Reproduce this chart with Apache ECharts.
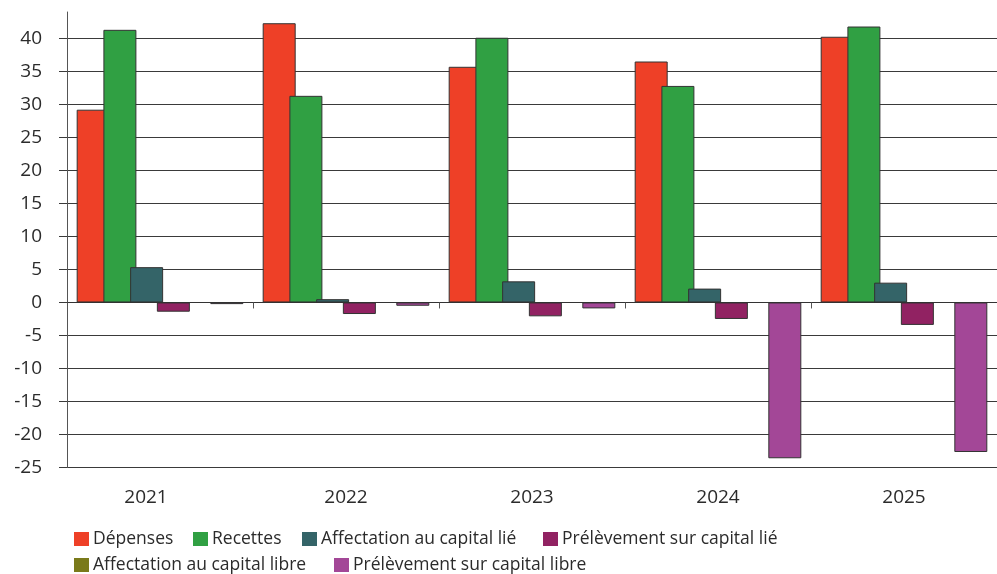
<!DOCTYPE html>
<html>
<head>
<meta charset="utf-8">
<script src="https://cdn.jsdelivr.net/npm/echarts@6/dist/echarts.min.js"></script>
<style>
  html, body { margin: 0; padding: 0; background: #fff; }
  #chart { width: 997px; height: 574px; }
</style>
</head>
<body>
<div id="chart"></div>
<script>
const categories = ['2021', '2022', '2023', '2024', '2025'];
const depenses = [29.2, 42.3, 35.7, 36.5, 40.25];
const recettes = [41.3, 31.3, 40.1, 32.8, 41.8];
const affectationLie = [5.35, 0.5, 3.2, 2.1, 3.0];
const prelevementLie = [-1.4, -1.75, -2.1, -2.5, -3.4];
const affectationLibre = [0, 0, 0, 0, 0];
const prelevementLibre = [-0.25, -0.5, -0.9, -23.6, -22.65];
const yTicks = [-25, -20, -15, -10, -5, 0, 5, 10, 15, 20, 25, 30, 35, 40];

const seriesDefs = [
  { name: 'Dépenses', data: depenses, color: '#EE4027' },
  { name: 'Recettes', data: recettes, color: '#30A043' },
  { name: 'Affectation au capital lié', data: affectationLie, color: '#346468' },
  { name: 'Prélèvement sur capital lié', data: prelevementLie, color: '#912262' },
  { name: 'Affectation au capital libre', data: affectationLibre, color: '#7A7A1A' },
  { name: 'Prélèvement sur capital libre', data: prelevementLibre, color: '#A34797' }
];

const legendPos = [
  { left: 74, top: 529 },
  { left: 193, top: 529 },
  { left: 302, top: 529 },
  { left: 543, top: 529 },
  { left: 74, top: 555 },
  { left: 334, top: 555 }
];

const FONT = '"Open Sans", "Noto Sans", sans-serif';
const splitColors = yTicks.map(() => '#3a3a3a').concat(['rgba(0,0,0,0)']);

const chart = echarts.init(document.getElementById('chart'), null, { renderer: 'canvas' });

chart.setOption({
  animation: false,
  backgroundColor: '#fff',
  textStyle: { fontFamily: FONT },
  grid: { left: 67, right: -5, top: 12, bottom: 106.5, containLabel: false },
  legend: seriesDefs.map((s, i) => ({
    data: [s.name],
    left: legendPos[i].left,
    top: legendPos[i].top,
    padding: 0,
    itemWidth: 15,
    itemHeight: 14,
    itemGap: 0,
    icon: 'rect',
    selectedMode: false,
    itemStyle: { borderWidth: 0 },
    textStyle: { fontFamily: FONT, fontSize: 17.5, color: '#2b2b2b', padding: [0, 0, 0, -1], lineHeight: 20 }
  })),
  xAxis: [
    {
      type: 'category',
      data: categories,
      axisLine: { show: true, onZero: true, lineStyle: { color: '#333', width: 1 } },
      axisTick: { show: true, length: 6, lineStyle: { color: '#555' } },
      axisLabel: { show: false },
      splitLine: { show: false }
    },
    {
      type: 'category',
      data: categories,
      position: 'bottom',
      axisLine: { show: false },
      axisTick: { show: false },
      axisLabel: {
        show: true,
        margin: 21,
        fontFamily: FONT,
        fontSize: 19,
        color: '#2b2b2b',
        formatter: (v, i) => i === 0 ? '{a|' + v + '}' : v,
        rich: { a: { fontFamily: FONT, fontSize: 19, color: '#2b2b2b', padding: [0, 28, 0, 0] } }
      },
      splitLine: { show: false }
    }
  ],
  yAxis: {
    type: 'value',
    min: -25,
    max: 44,
    interval: 5,
    axisLine: { show: true, lineStyle: { color: '#555', width: 1 } },
    axisTick: { show: true, length: 8, customValues: yTicks, lineStyle: { color: '#3a3a3a' } },
    axisLabel: {
      show: true,
      margin: 25,
      fontFamily: FONT,
      fontSize: 19,
      color: '#2b2b2b',
      customValues: yTicks
    },
    splitLine: { show: true, lineStyle: { color: splitColors, width: 1 } }
  },
  series: seriesDefs.map((s, i) => ({
    name: s.name,
    type: 'bar',
    xAxisIndex: 0,
    data: s.data,
    barWidth: 33,
    barGap: '-19%',
    itemStyle: {
      color: s.color,
      borderColor: '#333',
      borderWidth: i === 4 ? 0 : 1
    }
  }))
});
</script>
</body>
</html>
